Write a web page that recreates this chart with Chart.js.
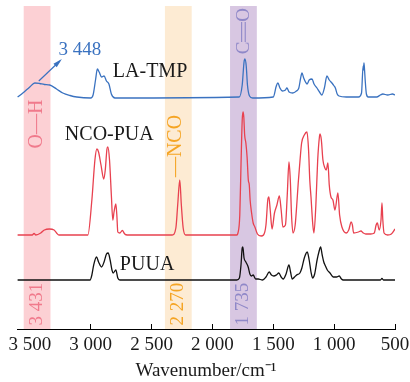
<!DOCTYPE html>
<html>
<head>
<meta charset="utf-8">
<script src="https://cdn.jsdelivr.net/npm/chart.js@4.4.1/dist/chart.umd.min.js"></script>
<style>
  html, body { margin: 0; padding: 0; background: #fff; }
  #ftir { display: block; }
</style>
</head>
<body>
<canvas id="ftir" width="410" height="382"></canvas>
<script>
// Spectre FTIR - numere de undă (cm-1) și intensități relative deasupra liniei de bază
var tickValues = [3500, 3000, 2500, 2000, 1500, 1000, 500];

var laTmpWn = [3600, 3557, 3500, 3459, 3420, 3380, 3336, 3280, 3229, 3170, 3114, 3000, 2980, 2960, 2945, 2930, 2910, 2890, 2870, 2850, 2830, 2800,
  1780, 1755, 1740, 1733, 1722, 1712, 1695, 1670, 1500, 1475, 1462, 1445, 1425, 1400, 1388, 1370, 1340, 1310, 1290, 1275, 1264, 1250, 1235, 1222,
  1205, 1182, 1165, 1141, 1120, 1100, 1080, 1059, 1040, 1018, 1000, 990, 975, 960, 900, 800, 775, 762, 758, 755, 750, 745, 735, 720, 650, 620, 600, 560, 520, 500];
var laTmpVal = [1, 5, 11, 15, 14.5, 13.5, 13, 9, 5, 2.5, 1, 0, 3, 18, 29, 26, 21, 22, 17, 14, 4, 0,
  1, 13, 36, 39, 32, 13, 2, 0, 1, 12, 15, 10, 7, 8, 10, 6, 5, 7, 10, 20, 25, 20, 16, 14,
  18, 19, 14, 10, 6, 3, 10, 22, 18, 15, 12, 10, 4, 2, 1, 1, 5, 32, 28, 35, 28, 18, 4, 1, 1, 3, 4, 3, 4, 3];

var ncoPuaWn = [3600, 3480, 3465, 3450, 3410, 3380, 3340, 3300, 3280, 3260, 3050, 3023, 2990, 2965, 2949, 2935, 2915, 2892, 2880, 2866, 2859, 2845, 2830, 2818,
  2808, 2793, 2785, 2777, 2760, 2740, 2720, 2700, 2330, 2300, 2285, 2268, 2255, 2240, 2220, 1800, 1790, 1775, 1765, 1755, 1748, 1742, 1735, 1725, 1715,
  1705, 1697, 1690, 1678, 1665, 1651, 1630, 1600, 1580, 1560, 1545, 1536, 1525, 1510, 1490, 1470, 1450, 1435, 1421, 1400, 1385, 1371, 1360, 1350, 1338,
  1320, 1306, 1295, 1280, 1267, 1245, 1223, 1210, 1200, 1190, 1175, 1166, 1150, 1135, 1120, 1116, 1105, 1092, 1076, 1065, 1051, 1040, 1026, 1010, 993,
  969, 955, 936, 900, 880, 860, 850, 840, 800, 780, 760, 740, 700, 670, 655, 645, 630, 615, 607, 600, 590, 560, 530, 500];
var ncoPuaVal = [0, 0, 1.5, 0, 2, 5, 6, 5, 2, 0, 0, 0, 35, 75, 86, 83, 70, 56, 65, 86, 88, 75, 40, 15,
  23, 31, 20, 3, 2, 4.5, 1, 0, 0, 7, 30, 55, 30, 7, 0, 0, 2, 20, 70, 115, 123, 118, 100, 92, 78,
  55, 50, 35, 22, 12, 8, 1, -1, 0, 10, 35, 38, 25, 6, 22, 30, 39, 25, 8, 10, 40, 73, 55, 20, 2,
  10, 32, 52, 75, 92, 100, 103, 85, 55, 38, 10, 2, 30, 75, 99, 101, 95, 75, 67, 65, 72, 50, 38, 35, 25,
  42, 20, 8, 2, 5, 13, 10, 2, 3, 4, 2, 1, 1, 2, 10, 12, 5, 15, 32, 15, 2, 0, 1, 6];

var puuaWn = [3600, 3005, 2990, 2975, 2952, 2935, 2911, 2890, 2870, 2856, 2840, 2825, 2815, 2793, 2777, 2760, 1800, 1778, 1765, 1755, 1750, 1740, 1725,
  1706, 1692, 1680, 1665, 1645, 1624, 1588, 1560, 1533, 1515, 1495, 1475, 1454, 1435, 1418, 1395, 1371, 1358, 1344, 1325, 1308, 1281, 1265, 1245, 1221,
  1205, 1190, 1177, 1160, 1140, 1125, 1111, 1098, 1085, 1075, 1056, 1034, 1007, 980, 958, 940, 925, 620, 607, 595, 500];
var puuaVal = [0, 0, 5, 15, 23, 18, 13, 18, 26, 27, 20, 10, 7, 10, 2, 0, 0, 2, 15, 32, 33, 22, 18,
  13, 6, 4, 5, 1, 1, 0, 3, 8, 5, 4, 5, 7, 3, 1, 6, 15, 8, 1, 3, 5, 7, 12, 22, 28,
  20, 8, 2, 6, 20, 28, 33, 25, 18, 15, 10, 7, 3, 3, 4, 1, 0, 0, 1.5, 0, 0];

// Decalajul vertical al fiecărui spectru
var seriesNames = ['LA-TMP', 'NCO-PUA', 'PUUA'];
var seriesOffsets = [231, 94, 49];

// Benzile evidențiate: [de la, până la] cm-1
var bandRanges = [[3550, 3330], [2390, 2170], [1855, 1635]];
var bandLabels = ['3 431', '2 270', '1 735'];
var groupLabels = ['O\u2014H', '\u2014NCO', 'C=O'];

function toPoints(wn, val, off) {
    var pts = [];
    for (var i = 0; i < wn.length; i++) pts.push({ x: wn[i], y: val[i] + off });
    return pts;
}

function fmt(v) {
    var s = String(v);
    return s.length > 3 ? s.slice(0, s.length - 3) + ' ' + s.slice(-3) : s;
}

var serif = '"Liberation Serif", "Times New Roman", serif';
var bandFill = ['#fcd0d4', '#fdebd3', '#d8c7e2'];
var bandText = ['#f07a8c', '#f5a423', '#8f88c8'];

var bandsPlugin = {
    id: 'bands',
    beforeDatasetsDraw: function (chart) {
        var ctx = chart.ctx, x = chart.scales.x, a = chart.chartArea;
        ctx.save();
        bandRanges.forEach(function (r, i) {
            var x1 = x.getPixelForValue(r[0]), x2 = x.getPixelForValue(r[1]);
            ctx.fillStyle = bandFill[i];
            ctx.fillRect(x1, a.top, x2 - x1, a.bottom - a.top);
        });
        ctx.restore();
    }
};

function rotText(ctx, txt, px, py, color, size) {
    ctx.save();
    ctx.translate(px, py);
    ctx.rotate(-Math.PI / 2);
    ctx.fillStyle = color;
    ctx.font = size + 'px ' + serif;
    ctx.textAlign = 'center';
    ctx.textBaseline = 'middle';
    ctx.fillText(txt, 0, 0);
    ctx.restore();
}

var labelsPlugin = {
    id: 'labels',
    afterDatasetsDraw: function (chart) {
        var ctx = chart.ctx, x = chart.scales.x, y = chart.scales.y;
        ctx.save();
        // numele probelor
        ctx.font = '20px ' + serif;
        ctx.fillStyle = '#1a1a1a';
        ctx.textBaseline = 'middle';
        ctx.textAlign = 'left';
        ctx.fillText(seriesNames[0], x.getPixelForValue(2818), y.getPixelForValue(257));
        ctx.fillText(seriesNames[1], x.getPixelForValue(3212), y.getPixelForValue(194));
        ctx.fillText(seriesNames[2], x.getPixelForValue(2760), y.getPixelForValue(64));

        // 3 448 cu săgeată
        var blue = '#3a72c0';
        var ax1 = x.getPixelForValue(3426), ay1 = y.getPixelForValue(248);
        var ax2 = x.getPixelForValue(3253), ay2 = y.getPixelForValue(268);
        ctx.strokeStyle = blue;
        ctx.fillStyle = blue;
        ctx.lineWidth = 1.2;
        ctx.beginPath();
        ctx.moveTo(ax1, ay1);
        ctx.lineTo(ax2, ay2);
        ctx.stroke();
        var ang = Math.atan2(ay2 - ay1, ax2 - ax1);
        ctx.beginPath();
        ctx.moveTo(ax2 + 2, ay2 - 2);
        ctx.lineTo(ax2 - 7 * Math.cos(ang - 0.35), ay2 - 7 * Math.sin(ang - 0.35));
        ctx.lineTo(ax2 - 7 * Math.cos(ang + 0.35), ay2 - 7 * Math.sin(ang + 0.35));
        ctx.closePath();
        ctx.fill();
        ctx.font = '19px ' + serif;
        ctx.textAlign = 'center';
        ctx.fillText('3 448', x.getPixelForValue(3089), y.getPixelForValue(279));
        ctx.restore();

        // etichete verticale ale benzilor
        bandRanges.forEach(function (r, i) {
            var cx = x.getPixelForValue((r[0] + r[1]) / 2);
            rotText(ctx, bandLabels[i], cx, y.getPixelForValue(25), bandText[i], 19);
        });
        rotText(ctx, groupLabels[0], x.getPixelForValue(3440), y.getPixelForValue(205), bandText[0], 20);
        rotText(ctx, groupLabels[1], x.getPixelForValue(2300), y.getPixelForValue(183), bandText[1], 20);

        // C=O cu dublă legătură lungă
        var cx = x.getPixelForValue(1745), cy = y.getPixelForValue(297);
        ctx.save();
        ctx.translate(cx, cy);
        ctx.rotate(-Math.PI / 2);
        ctx.fillStyle = bandText[2];
        ctx.strokeStyle = bandText[2];
        ctx.font = '19px ' + serif;
        ctx.textBaseline = 'middle';
        ctx.textAlign = 'center';
        ctx.fillText('C', -16, 0.5);
        ctx.fillText('O', 17, 0.5);
        ctx.lineWidth = 1.1;
        ctx.beginPath();
        ctx.moveTo(-10, -1.8); ctx.lineTo(10, -1.8);
        ctx.moveTo(-10, 1.8); ctx.lineTo(10, 1.8);
        ctx.stroke();
        ctx.restore();
    }
};

var ctx = document.getElementById('ftir').getContext('2d');
var chart = new Chart(ctx, {
    type: 'line',
    data: {
        datasets: [
            { label: seriesNames[0], data: toPoints(laTmpWn, laTmpVal, seriesOffsets[0]), borderColor: '#3a72c0' },
            { label: seriesNames[1], data: toPoints(ncoPuaWn, ncoPuaVal, seriesOffsets[1]), borderColor: '#e8414f' },
            { label: seriesNames[2], data: toPoints(puuaWn, puuaVal, seriesOffsets[2]), borderColor: '#111111' }
        ]
    },
    options: {
        responsive: false,
        animation: false,
        devicePixelRatio: 1,
        layout: { padding: { left: 17, right: 15, top: 6, bottom: 0 } },
        elements: {
            line: { borderWidth: 1.3, tension: 0.4, cubicInterpolationMode: 'monotone', fill: false },
            point: { radius: 0 }
        },
        plugins: { legend: { display: false }, tooltip: { enabled: false } },
        scales: {
            x: {
                type: 'linear',
                reverse: true,
                min: 500,
                max: 3605,
                afterBuildTicks: function (axis) {
                    axis.ticks = tickValues.map(function (v) { return { value: v }; });
                },
                afterFit: function (axis) {
                    axis.height = 53;
                    axis.paddingLeft = 0;
                    axis.paddingRight = 0;
                },
                border: { display: true, color: '#000', width: 1 },
                grid: { display: true, drawOnChartArea: false, drawTicks: true, tickLength: -5, tickColor: '#000', tickWidth: 1 },
                ticks: {
                    color: '#1a1a1a',
                    font: { family: serif, size: 19 },
                    padding: 10,
                    maxRotation: 0,
                    autoSkip: false,
                    callback: function (v) { return fmt(v); }
                },
                title: {
                    display: true,
                    text: 'Wavenumber/cm\u207B\u00B9',
                    color: '#1a1a1a',
                    font: { family: serif, size: 19 },
                    padding: { top: 4, bottom: 0 }
                }
            },
            y: { display: false, min: 0, max: 323 }
        }
    },
    plugins: [bandsPlugin, labelsPlugin]
});
</script>
</body>
</html>
